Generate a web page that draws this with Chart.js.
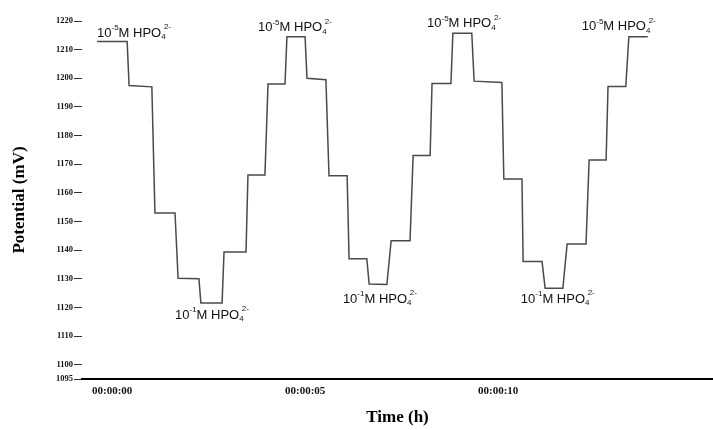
<!DOCTYPE html>
<html>
<head>
<meta charset="utf-8">
<script src="https://cdn.jsdelivr.net/npm/chart.js@4/dist/chart.umd.min.js"></script>
<style>
    html, body { margin: 0; padding: 0; background: #fff; }
    #wrap { width: 713px; height: 430px; }
</style>
</head>
<body>
<div id="wrap"><canvas id="chartPotencial" width="713" height="430"></canvas></div>
<script>
// tempo (s) e potencial (mV), degrau a degrau
const tempo = [0.13, 0.91, 0.96, 1.55, 1.63, 2.15, 2.23, 2.77, 2.82, 3.37, 3.42, 3.99, 4.04, 4.48, 4.56, 5.00, 5.05, 5.52,
    5.57, 6.06, 6.14, 6.61, 6.66, 7.12, 7.18, 7.64, 7.75, 8.24, 8.32, 8.76, 8.81, 9.30, 9.35, 9.84, 9.90, 10.62,
    10.67, 11.14, 11.17, 11.66, 11.74, 12.20, 12.31, 12.80, 12.88, 13.32, 13.37, 13.83, 13.91, 14.40];
const potencial = [1212.8, 1212.8, 1197.5, 1197.0, 1153.0, 1153.0, 1130.2, 1130.0, 1121.5, 1121.5, 1139.3, 1139.3, 1166.2, 1166.2, 1198.0, 1198.0, 1214.5, 1214.5,
    1200.0, 1199.5, 1166.0, 1166.0, 1137.0, 1137.0, 1128.2, 1128.0, 1143.3, 1143.3, 1173.0, 1173.0, 1198.2, 1198.2, 1215.7, 1215.7, 1199.0, 1198.5,
    1164.8, 1164.8, 1136.0, 1136.0, 1126.7, 1126.7, 1142.1, 1142.1, 1171.5, 1171.5, 1197.1, 1197.1, 1214.5, 1214.5];

const yTicks = [1095, 1100, 1110, 1120, 1130, 1140, 1150, 1160, 1170, 1180, 1190, 1200, 1210, 1220];
const xTicks = [0, 5, 10];
const xTickLabels = ['00:00:00', '00:00:05', '00:00:10'];

// rótulos de concentração: expoente e posição (tempo, mV)
const rotuloExpoente = ['-5', '-5', '-5', '-5', '-1', '-1', '-1'];
const rotuloTempo = [0.13, 4.30, 8.68, 12.69, 2.15, 6.50, 11.11];
const rotuloMv = [1215.8, 1217.6, 1219.0, 1218.1, 1117.3, 1122.9, 1122.9];

const pontos = tempo.map((t, i) => ({ x: t, y: potencial[i] }));

function desenharFormula(ctx, x, y, exp) {
    const big = '13px "Liberation Sans", Arial, sans-serif';
    const small = '8px "Liberation Sans", Arial, sans-serif';
    ctx.textBaseline = 'middle';
    ctx.textAlign = 'left';
    ctx.font = big;
    ctx.fillText('10', x, y);
    x += ctx.measureText('10').width;
    ctx.font = small;
    ctx.fillText(exp, x, y - 5);
    x += ctx.measureText(exp).width;
    ctx.font = big;
    ctx.fillText('M HPO', x, y);
    x += ctx.measureText('M HPO').width;
    ctx.font = small;
    ctx.fillText('4', x, y + 4);
    const w4 = ctx.measureText('4').width;
    ctx.fillText('2-', x + w4 * 0.6, y - 6);
}

const rotulosPlugin = {
    id: 'rotulos',
    afterDatasetsDraw(chart) {
        const { ctx, scales } = chart;
        ctx.save();
        ctx.fillStyle = '#111';
        rotuloExpoente.forEach((exp, i) => {
            desenharFormula(ctx, scales.x.getPixelForValue(rotuloTempo[i]), scales.y.getPixelForValue(rotuloMv[i]), exp);
        });
        ctx.restore();
    }
};

const serif = '"Liberation Serif", "Times New Roman", serif';

new Chart(document.getElementById('chartPotencial'), {
    type: 'line',
    data: {
        datasets: [{
            data: pontos,
            borderColor: '#4a4a4a',
            borderWidth: 1.5,
            pointRadius: 0,
            tension: 0,
            fill: false
        }]
    },
    options: {
        responsive: false,
        animation: false,
        layout: { padding: { top: 21, right: 0, bottom: 0, left: 0 } },
        plugins: { legend: { display: false }, tooltip: { enabled: false } },
        scales: {
            x: {
                type: 'linear',
                min: -0.26,
                max: 16.09,
                afterBuildTicks: s => { s.ticks = xTicks.map(v => ({ value: v })); },
                afterFit: s => { s.height = 51; },
                grid: { display: false, drawTicks: false },
                border: { display: true, color: '#000', width: 2 },
                ticks: {
                    align: 'start',
                    padding: 6,
                    color: '#111',
                    font: { family: serif, size: 11, weight: 'bold' },
                    callback: (v, i) => xTickLabels[i]
                },
                title: {
                    display: true,
                    text: 'Time (h)',
                    color: '#000',
                    font: { family: serif, size: 17, weight: 'bold' },
                    padding: { top: 0, bottom: 2 }
                }
            },
            y: {
                min: 1095,
                max: 1220,
                afterBuildTicks: s => { s.ticks = yTicks.map(v => ({ value: v })); },
                afterFit: s => { s.width = 82; },
                grid: { drawOnChartArea: false, drawTicks: true, tickLength: 8, color: '#333', lineWidth: 1 },
                border: { display: false },
                ticks: {
                    padding: 1,
                    color: '#111',
                    font: { family: serif, size: 8.5, weight: 'bold' },
                    callback: v => String(v)
                },
                title: {
                    display: true,
                    text: 'Potential (mV)',
                    color: '#000',
                    font: { family: serif, size: 17, weight: 'bold' },
                    padding: { top: 9, bottom: 0 }
                }
            }
        }
    },
    plugins: [rotulosPlugin]
});
</script>
</body>
</html>
